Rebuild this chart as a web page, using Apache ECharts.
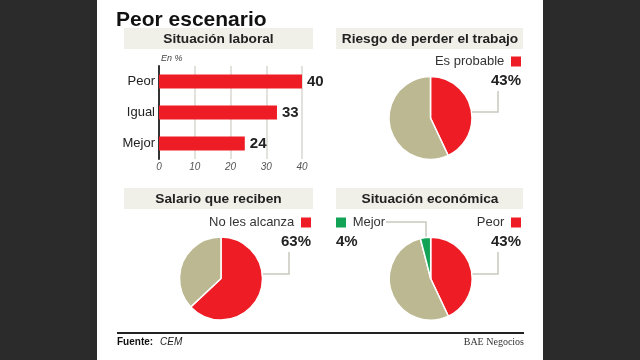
<!DOCTYPE html>
<html>
<head>
<meta charset="utf-8">
<script src="https://cdn.jsdelivr.net/npm/echarts@6/dist/echarts.min.js"></script>
<style>
html,body{margin:0;padding:0;background:#2b2b2b;}
#c{width:640px;height:360px;}
</style>
</head>
<body>
<div id="c"></div>
<script>
// ---- data ----
const barCategories = ['Peor', 'Igual', 'Mejor'];
const barValues = [40, 33, 24];
const xTickMax = 40;
const xTickStep = 10;

const riesgoNames = ['Es probable', 'No es probable'];
const riesgoValues = [43, 57];

const salarioNames = ['No les alcanza', 'Les alcanza'];
const salarioValues = [63, 37];

const economiaNames = ['Peor', 'Igual', 'Mejor'];
const economiaValues = [43, 53, 4];

const titles = ['Situación laboral', 'Riesgo de perder el trabajo', 'Salario que reciben', 'Situación económica'];

// ---- style ----
const RED = '#ee1c25', BEIGE = '#bcb892', GREEN = '#13a356';
const FONT = 'Liberation Sans, Arial, sans-serif';
const LEADER = {color: '#c9c7bf', width: 1.5};

const chart = echarts.init(document.getElementById('c'));

const RICH = {
  n: {fontSize: 13, color: '#333', fontFamily: FONT, lineHeight: 19, align: 'right'},
  sq: {width: 10, height: 10, backgroundColor: RED, align: 'right'},
  v: {fontSize: 15, fontWeight: 'bold', color: '#222', fontFamily: FONT, lineHeight: 19, align: 'right'},
  nl: {fontSize: 13, color: '#333', fontFamily: FONT, lineHeight: 19, align: 'left'},
  sqg: {width: 10, height: 10, backgroundColor: GREEN, align: 'left'},
  vl: {fontSize: 15, fontWeight: 'bold', color: '#222', fontFamily: FONT, lineHeight: 19, align: 'left'}
};

function pieData(names, values, colors, labelIdx) {
  return names.map((n, i) => ({
    name: n, value: values[i],
    itemStyle: {color: colors[i]},
    label: {show: labelIdx.indexOf(i) >= 0},
    labelLine: {show: labelIdx.indexOf(i) >= 0}
  }));
}

const headerBox = (x, y, w, h) => ({type: 'rect', shape: {x: x, y: y, width: w, height: h}, style: {fill: '#f0efe8'}, z: 1});
const headerTitle = (text, x, y) => ({text: text, left: x, top: y, padding: 0, textAlign: 'center', textStyle: {fontSize: 13.7, fontWeight: 'bold', color: '#222', fontFamily: FONT}});

const option = {
  animation: false,
  backgroundColor: '#2b2b2b',
  graphic: [
    {type: 'rect', shape: {x: 97, y: 0, width: 446, height: 360}, style: {fill: '#ffffff'}, z: 0},
    headerBox(124, 28, 189, 21),
    headerBox(336, 28, 187, 21),
    headerBox(124, 188, 189, 21),
    headerBox(336, 188, 187, 21),
    {type: 'text', left: 161, top: 54, z: 5, style: {text: 'En %', font: 'italic 9px ' + FONT, fill: '#444'}},
    {type: 'line', shape: {x1: 117, y1: 333, x2: 524, y2: 333}, style: {stroke: '#222', lineWidth: 2}, z: 5},
    {type: 'text', left: 117, top: 337, z: 5, style: {text: 'Fuente:', font: 'bold 10px ' + FONT, fill: '#111'}},
    {type: 'text', left: 160, top: 337, z: 5, style: {text: 'CEM', font: 'italic 10px ' + FONT, fill: '#222'}},
    {type: 'text', right: 116, top: 337, z: 5, style: {text: 'BAE Negocios', font: '10px Liberation Serif, serif', fill: '#333'}}
  ],
  title: [
    {text: 'Peor escenario', left: 116, top: 10, padding: 0, textStyle: {fontSize: 21, fontWeight: 'bold', color: '#111', fontFamily: FONT}},
    headerTitle(titles[0], 218.5, 32.5),
    headerTitle(titles[1], 430, 32.5),
    headerTitle(titles[2], 218.5, 192.5),
    headerTitle(titles[3], 430, 192.5)
  ],
  grid: {left: 159, width: 143, top: 66, height: 93, containLabel: false},
  xAxis: {
    type: 'value', min: 0, max: xTickMax, interval: xTickStep,
    axisLine: {show: false}, axisTick: {show: false},
    splitLine: {show: true, lineStyle: {color: '#d9d7cf', width: 1.5}},
    axisLabel: {fontSize: 10, fontStyle: 'italic', color: '#555', margin: 3, fontFamily: FONT}
  },
  yAxis: {
    type: 'category', data: barCategories, inverse: true,
    axisLine: {show: true, lineStyle: {color: '#333', width: 2}},
    axisTick: {show: false},
    axisLabel: {fontSize: 13, color: '#222', margin: 4, fontFamily: FONT}
  },
  series: [
    {
      type: 'bar', data: barValues, barWidth: 14, z: 3,
      itemStyle: {color: RED},
      label: {show: true, position: 'right', distance: 5, fontSize: 15, fontWeight: 'bold', color: '#222', fontFamily: FONT}
    },
    {
      type: 'pie', center: [430.5, 118], radius: 41.5, startAngle: 90, clockwise: true,
      itemStyle: {borderColor: '#fff', borderWidth: 1.5},
      data: pieData(riesgoNames, riesgoValues, [RED, BEIGE], [0]),
      label: {formatter: p => '{n|' + p.name + '}  {sq|}\n{v|' + p.value + '%}', rich: RICH},
      labelLine: {lineStyle: LEADER},
      labelLayout: p => p.dataIndex === 0 ? {x: 521, y: 52, align: 'right', verticalAlign: 'top', labelLinePoints: [[472, 112], [498, 112], [498, 91]]} : {}
    },
    {
      type: 'pie', center: [221, 278.5], radius: 41.5, startAngle: 90, clockwise: true,
      itemStyle: {borderColor: '#fff', borderWidth: 1.5},
      data: pieData(salarioNames, salarioValues, [RED, BEIGE], [0]),
      label: {formatter: p => '{n|' + p.name + '}  {sq|}\n{v|' + p.value + '%}', rich: RICH},
      labelLine: {lineStyle: LEADER},
      labelLayout: p => p.dataIndex === 0 ? {x: 311, y: 213, align: 'right', verticalAlign: 'top', labelLinePoints: [[263, 274], [289, 274], [289, 252]]} : {}
    },
    {
      type: 'pie', center: [430.7, 278.7], radius: 41.5, startAngle: 90, clockwise: true,
      itemStyle: {borderColor: '#fff', borderWidth: 1.5},
      data: pieData(economiaNames, economiaValues, [RED, BEIGE, GREEN], [0, 2]),
      label: {
        formatter: p => p.dataIndex === 0
          ? '{n|' + p.name + '}  {sq|}\n{v|' + p.value + '%}'
          : '{sqg|}  {nl|' + p.name + '}\n{vl|' + p.value + '%}',
        rich: RICH
      },
      labelLine: {lineStyle: LEADER},
      labelLayout: p => {
        if (p.dataIndex === 0) return {x: 521, y: 213, align: 'right', verticalAlign: 'top', labelLinePoints: [[472, 274], [498, 274], [498, 252]]};
        if (p.dataIndex === 2) return {x: 336, y: 213, align: 'left', verticalAlign: 'top', labelLinePoints: [[386, 222], [426, 222], [426, 238]]};
        return {};
      }
    }
  ]
};
chart.setOption(option);
</script>
</body>
</html>
